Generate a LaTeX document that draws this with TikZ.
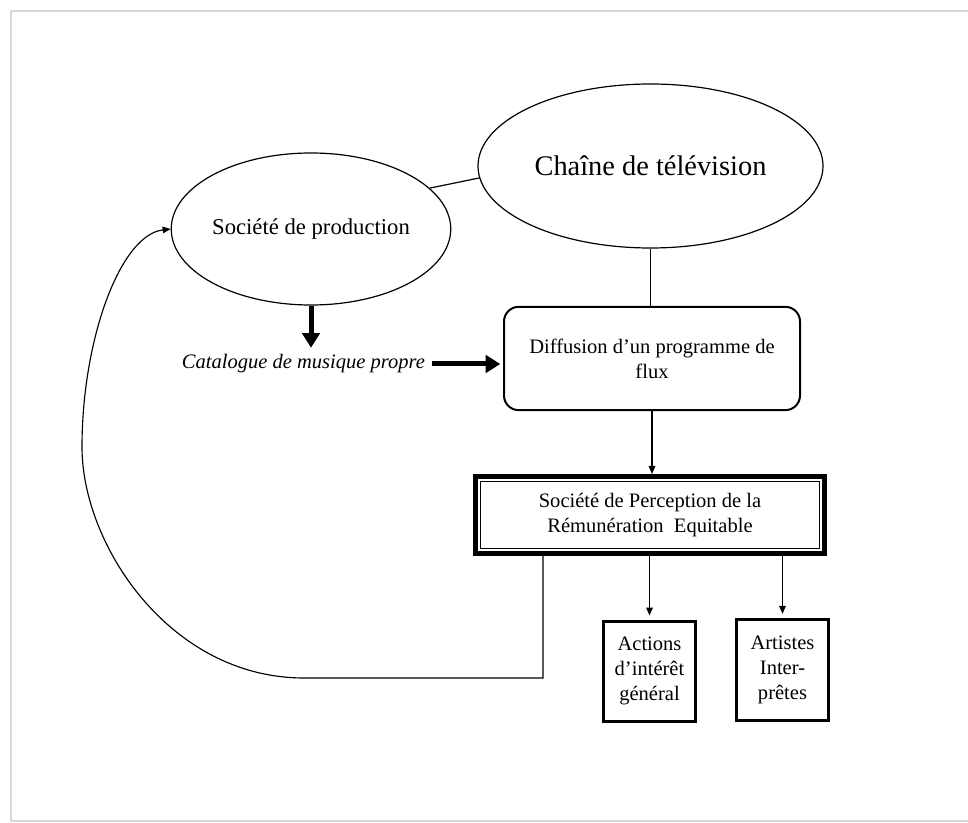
\documentclass[tikz,border=0pt]{standalone}
\usepackage{fontspec}
\setmainfont{Liberation Serif}
\usetikzlibrary{arrows.meta,shapes.geometric}
\begin{document}
\begin{tikzpicture}[x=0.75pt,y=-0.75pt,
  ell/.style={ellipse, draw, line width=0.9pt, inner sep=0pt},
  txt/.style={align=center, font=\fontsize{15.4}{18.75}\selectfont},
  smallbox/.style={draw, line width=2.25pt, txt, inner sep=0pt, minimum width=69pt, minimum height=75pt},
  tarrow/.style={-{Triangle[length=6pt,width=5pt]}, line width=0.85pt},
  bigarrow/.style={-{Triangle[length=11pt,width=13pt]}, line width=3.75pt},
  link/.style={line width=0.9pt}
]
\useasboundingbox (0,0) rectangle (968,823);
% page frame
\draw[gray!30, line width=1.8pt] (968,11) -- (11,11) -- (11,821) -- (968,821);

% nodes
\node[ell, minimum width=258.75pt, minimum height=123pt,
      font=\fontsize{21.3}{25}\selectfont] (chaine) at (650.5,166) {Chaîne de télévision};
\node[ell, minimum width=203.25pt, minimum height=114pt,
      font=\fontsize{17}{20}\selectfont] (soc) at (311,229) {Société de production};
\node[txt, font=\fontsize{15.4}{18.75}\selectfont\itshape, inner sep=5pt] (cat) at (303.5,364) {Catalogue de musique propre};
\node[draw, txt, line width=1.5pt, rounded corners=11pt, minimum width=222pt, minimum height=77.5pt, inner sep=0pt] (diff) at (652,358.5)
  {Diffusion d’un programme de\\flux};
\node[draw, txt, line width=3.75pt, minimum width=261.75pt, minimum height=57.75pt, inner sep=0pt] (sp) at (650,515)
  {Société de Perception de la\\Rémunération\ \ Equitable};
\draw[line width=0.8pt] ([xshift=5.6pt,yshift=-5.6pt]sp.north west) rectangle ([xshift=-5.6pt,yshift=5.6pt]sp.south east);
\node[smallbox] (act) at (649.5,671) {Actions\\d’intérêt\\général};
\node[smallbox, minimum height=76pt] (art) at (782.5,670) {Artistes\\Inter-\\prêtes};

% coordinates for feedback loop
\coordinate (fb1) at (543,678);
\coordinate (fb2) at (304,678);
\coordinate (fbl) at (82,447);

% connectors
\draw[link] (soc.19) -- (chaine.184);
\draw[link] (chaine.south) -- (chaine.south |- diff.north);
\draw[bigarrow] (soc.south) -- (soc.south |- cat.north);
\draw[bigarrow, shorten >=2pt] (cat.east) -- (cat.east -| diff.west);
\draw[tarrow] (diff.south) -- (diff.south |- sp.north);
\draw[tarrow, shorten >=3pt] (act.north |- sp.south) -- (act.north);
\draw[tarrow, shorten >=3pt] (art.north |- sp.south) -- (art.north);
\draw[tarrow] (fb1 |- sp.south) -- (fb1) -- (fb2)
  .. controls (170,678) and (82,545) .. (fbl)
  .. controls (82,340) and (120,235) .. (soc.west);
\end{tikzpicture}
\end{document}
